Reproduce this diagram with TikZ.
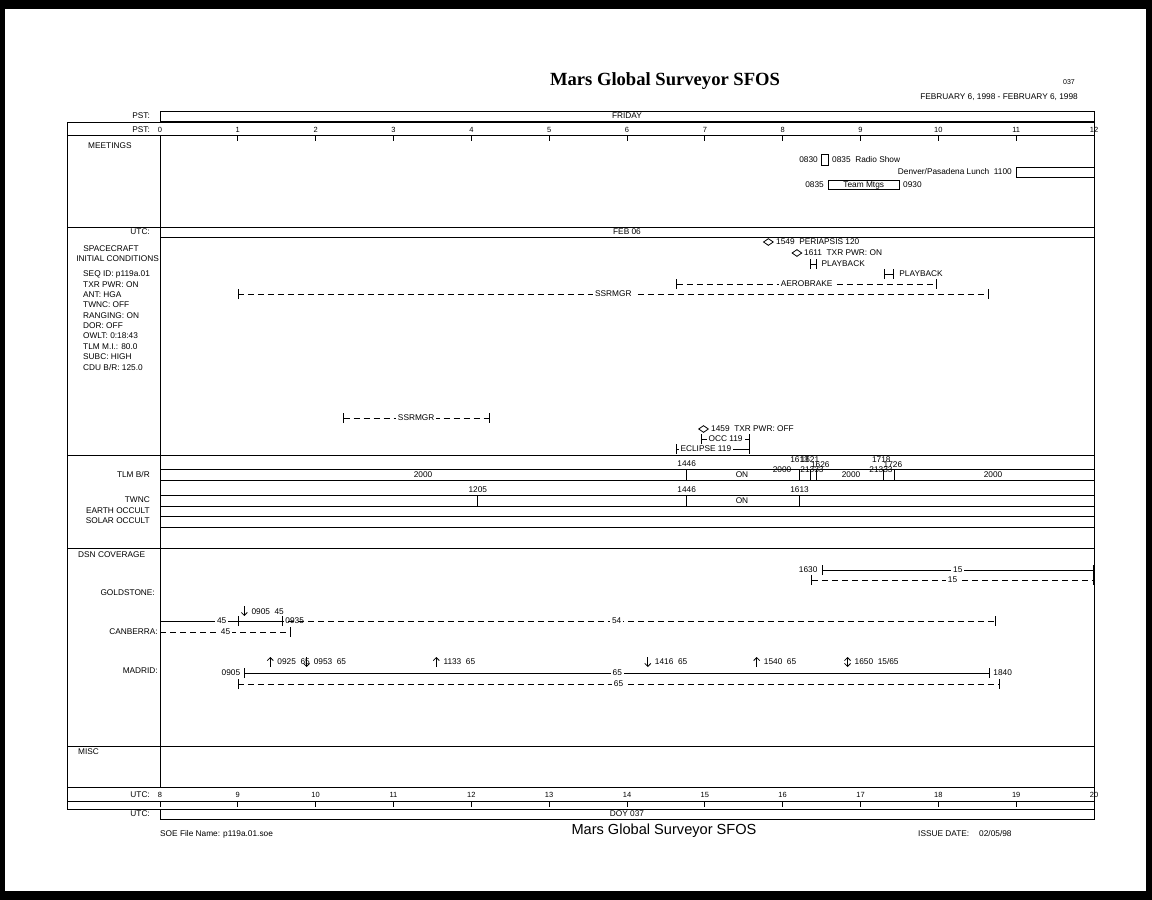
\documentclass[tikz,border=0pt]{standalone}
\usepackage{fontspec}
\setmainfont{Liberation Sans}
\newfontfamily\serifttl{Liberation Serif}
\usetikzlibrary{arrows.meta, shapes.geometric}
\tikzset{
    txt/.style={font=\fontsize{8.3}{9}\selectfont, inner sep=0pt},
    hdr/.style={txt, anchor=east},
    lft/.style={txt, anchor=west},
    frame/.style={line width=0.9pt},
    rule/.style={line width=0.8pt},
    hrtick/.style={line width=0.8pt},
    span/.style={line width=0.8pt, {Bar[width=10pt]}-{Bar[width=10pt]}},
    dspan/.style={span, dash pattern=on 6pt off 4pt},
    rspan/.style={line width=0.8pt, -{Bar[width=10pt]}},
    rdspan/.style={rspan, dash pattern=on 6pt off 4pt},
    spanlbl/.style={txt, fill=white, inner xsep=2pt, inner ysep=1pt},
    evmark/.style={draw, diamond, aspect=1.4, minimum width=10pt,
                   minimum height=7pt, inner sep=0pt, line width=0.8pt},
    mtgbox/.style={draw, line width=0.8pt},
    upar/.style={line width=0.8pt, -{Straight Barb[length=3pt, width=6pt]}},
    dnar/.style={line width=0.8pt, {Straight Barb[length=3pt, width=6pt]}-},
    udar/.style={line width=0.8pt,
                 {Straight Barb[length=3pt, width=6pt]}-{Straight Barb[length=3pt, width=6pt]}},
}

\begin{document}
\begin{tikzpicture}[x=1pt, y=-1pt,
    declare function={ut(\h,\m)=160+(\h+\m/60-8)*77.833;
                      pt(\h,\m)=160+(\h+\m/60)*77.833;}]
\useasboundingbox (0,0) rectangle (1152,900);
\fill[black] (0,0) rectangle (1152,900);
\fill[white] (5,9) rectangle (1146,891);

% --- page heading ---
\node[inner sep=0pt, font=\serifttl\bfseries\fontsize{18.6}{20}\selectfont] (title) at (665,81) {Mars Global Surveyor SFOS};
\node[txt, font=\fontsize{7}{8}\selectfont] (doynum) at (1069,82) {037};
\node[hdr] (dates) at (1078,97) {FEBRUARY 6, 1998 - FEBRUARY 6, 1998};

% --- frame and rows ---
\draw[rule] (160,111) rectangle (1094,121);
\draw[frame] (67,122) rectangle (1094,809);
\foreach \y in {135,227,455,548,746,787,801}
    \draw[rule] (67,\y) -- (1094,\y);
\foreach \y in {237,469,480,495,506,516,527}
    \draw[rule] (160,\y) -- (1094,\y);
\draw[rule] (160,135) -- (160,787);
\draw[rule] (160,809) rectangle (1094,819);

% --- time scales ---
\node[hdr] (pstday) at (150,116) {PST:};
\node[txt] (friday) at (627,116) {FRIDAY};
\node[hdr] (pstlbl) at (150,130) {PST:};
\foreach \h in {0,...,12}
    \node[txt, font=\fontsize{7.5}{8}\selectfont] (pst\h) at ({160+\h*77.833},130) {\h};
\foreach \h in {1,...,11}
    \draw[hrtick] ({160+\h*77.833},135) -- ++(0,6);
\node[hdr] (utclbl) at (150,795) {UTC:};
\foreach \h [evaluate=\h as \u using int(\h+8)] in {0,...,12}
    \node[txt, font=\fontsize{7.5}{8}\selectfont] (utc\u) at ({160+\h*77.833},795) {\u};
\foreach \h in {0,...,11}
    \draw[hrtick] ({160+\h*77.833},801) -- ++(0,6);
\node[hdr] (utcday) at (150,814) {UTC:};
\node[txt] (doy) at (627,814) {DOY 037};

% --- meetings ---
\node[lft] (meet) at (88,146) {MEETINGS};
\draw[mtgbox] ({pt(8,30)},154) rectangle ({pt(8,35)},165);
\node[hdr] (radio-a) at (818,160) {0830};
\node[lft] (radio-b) at (832,160) {0835~~Radio Show};
\draw[mtgbox] ({pt(11,0)},167) rectangle (1094,177);
\node[hdr] (lunch) at (1012,172) {Denver/Pasadena Lunch~~1100};
\draw[mtgbox] ({pt(8,35)},180) rectangle ({pt(9,30)},189);
\node[txt] (team) at ({(pt(8,35)+pt(9,30))/2},185.5) {Team Mtgs};
\node[hdr] (team-a) at (824,185) {0835};
\node[lft] (team-b) at (903,185) {0930};

% --- spacecraft ---
\node[hdr] (utcfeb) at (150,232) {UTC:};
\node[txt] (feb) at (627,232) {FEB 06};
\node[txt] (sc) at (111,249) {SPACECRAFT};
\node[hdr] (init) at (159,259) {INITIAL CONDITIONS};
\foreach \t [count=\i from 0] in {SEQ ID: p119a.01, TXR PWR: ON, ANT: HGA,
        TWNC: OFF, RANGING: ON, DOR: OFF, OWLT: 0:18:43, TLM M.I.: 80.0,
        SUBC: HIGH, CDU B/R: 125.0}
    \node[lft] (ic\i) at (83,{274+\i*10.35}) {\t};

\node[evmark] (peri) at ({ut(15,49)},242) {};
\node[lft] (peri-t) at (776,242) {1549~~PERIAPSIS 120};
\node[evmark] (txron) at ({ut(16,11)},253) {};
\node[lft] (txron-t) at (804,253) {1611~~TXR PWR: ON};
\coordinate (pb1a) at ({ut(16,21)},264);
\coordinate (pb1b) at ({ut(16,26)},264);
\draw[span] (pb1a) -- (pb1b);
\node[lft] (pb1) at ([xshift=5pt]pb1b) {PLAYBACK};
\coordinate (pb2a) at ({ut(17,18)},274);
\coordinate (pb2b) at ({ut(17,26)},274);
\draw[span] (pb2a) -- (pb2b);
\node[lft] (pb2) at ([xshift=5pt]pb2b) {PLAYBACK};
\coordinate (aeroa) at ({ut(14,38)},284);
\coordinate (aerob) at ({ut(17,59)},284);
\draw[dspan] (aeroa) -- node[spanlbl] (aero) {AEROBRAKE} (aerob);
\coordinate (ssr1a) at ({ut(9,0)},294);
\coordinate (ssr1b) at ({ut(18,39)},294);
\draw[dspan] (ssr1a) -- node[spanlbl] (ssr1) {SSRMGR} (ssr1b);
\coordinate (ssr2a) at ({ut(10,21)},418);
\coordinate (ssr2b) at ({ut(12,14)},418);
\draw[dspan] (ssr2a) -- node[spanlbl] (ssr2) {SSRMGR} (ssr2b);
\node[evmark] (txroff) at ({ut(14,59)},429) {};
\node[lft] (txroff-t) at (711,429) {1459~~TXR PWR: OFF};
\coordinate (occa) at ({ut(14,57)},439);
\coordinate (occb) at ({ut(15,35)},439);
\draw[span] (occa) -- node[spanlbl] (occ) {OCC 119} (occb);
\coordinate (ecla) at ({ut(14,38)},449);
\coordinate (eclb) at ({ut(15,35)},449);
\draw[span] (ecla) -- node[spanlbl, pos=0.4] (ecl) {ECLIPSE 119} (eclb);

% --- telemetry ---
\node[hdr] (tlmbr) at (150,475) {TLM B/R};
\node[hdr] (twnc) at (150,500) {TWNC};
\node[hdr] (earth) at (150,511) {EARTH OCCULT};
\node[hdr] (solar) at (150,521) {SOLAR OCCULT};
\foreach \h/\m in {14/46, 16/13, 16/21, 16/26, 17/18, 17/26}
    \draw[hrtick] ({ut(\h,\m)},469) -- ++(0,11);
\node[txt] (br1446) at ({ut(14,46)},464) {1446};
\node[txt] (br1613) at ({ut(16,13)},460) {1613};
\node[txt] (br1621) at ({ut(16,21)},460) {1621};
\node[txt] (br1626) at ({ut(16,29)},465) {1626};
\node[txt] (br1718) at ({ut(17,16)},460) {1718};
\node[txt] (br1726) at ({ut(17,25)},465) {1726};
\node[txt] (brlo1) at (782,470) {2000};
\node[txt] (brlo2) at (812,470) {21333};
\node[txt] (brlo3) at (881,470) {21333};
\node[txt] (brv1) at (423,475) {2000};
\node[txt] (brv2) at (742,475) {ON};
\node[txt] (brv3) at (851,475) {2000};
\node[txt] (brv4) at (993,475) {2000};
\foreach \h/\m in {12/05, 14/46, 16/13}
    \draw[hrtick] ({ut(\h,\m)},495) -- ++(0,11);
\node[txt] (tw1205) at ({ut(12,5)},490) {1205};
\node[txt] (tw1446) at ({ut(14,46)},490) {1446};
\node[txt] (tw1613) at ({ut(16,13)},490) {1613};
\node[txt] (twon) at (742,501) {ON};

% --- DSN coverage ---
\node[lft] (dsn) at (78,555) {DSN COVERAGE};
\node[hdr] (gds) at (155,593) {GOLDSTONE:};
\node[hdr] (cbr) at (158,632) {CANBERRA:};
\node[hdr] (mad) at (158,671) {MADRID:};

\coordinate (gs1a) at ({ut(16,30)},570);
\coordinate (gs1b) at (1094,570);
\draw[span] (gs1a) -- node[spanlbl] (gs1) {15} (gs1b);
\node[hdr] (gs1t) at ([xshift=-4pt]gs1a) {1630};
\coordinate (gs2a) at ({ut(16,22)},580);
\coordinate (gs2b) at (1094,580);
\draw[dspan] (gs2a) -- node[spanlbl] (gs2) {15} (gs2b);

\coordinate (cb3a) at ({ut(9,0)},621);
\coordinate (cb3b) at ({ut(18,44)},621);
\draw[dspan] (cb3a) -- node[spanlbl] (cb3) {54} (cb3b);
\coordinate (cb1a) at (160,621);
\coordinate (cb1b) at ({ut(9,35)},621);
\draw[rspan] (cb1a) -- node[spanlbl] (cb1) {45} (cb1b);
\node[lft] (cb1t) at ([xshift=2pt]cb1b) {0935};
\coordinate (cb2a) at (160,632);
\coordinate (cb2b) at ({ut(9,41)},632);
\draw[rdspan] (cb2a) -- node[spanlbl] (cb2) {45} (cb2b);
\coordinate (cbar) at ({ut(9,5)},616);
\draw[dnar] (cbar) -- ++(0,-10);
\node[lft] (cbart) at ([xshift=7pt, yshift=4pt]cbar) {0905~~45};

\coordinate (md1a) at ({ut(9,5)},673);
\coordinate (md1b) at ({ut(18,40)},673);
\draw[span] (md1a) -- node[spanlbl] (md1) {65} (md1b);
\node[hdr] (md1s) at ([xshift=-4pt]md1a) {0905};
\node[lft] (md1e) at ([xshift=3pt]md1b) {1840};
\coordinate (md2a) at ({ut(9,0)},684);
\coordinate (md2b) at ({ut(18,47)},684);
\draw[dspan] (md2a) -- node[spanlbl] (md2) {65} (md2b);
\foreach \h/\m/\dir/\t [count=\i] in {9/25/upar/{0925~~65}, 9/53/dnar/{0953~~65},
        11/33/upar/{1133~~65}, 14/16/dnar/{1416~~65}, 15/40/upar/{1540~~65},
        16/50/udar/{1650~~15/65}}
{
    \coordinate (mdar\i) at ({ut(\h,\m)},667);
    \draw[\dir] (mdar\i) -- ++(0,-10);
    \node[lft] (mdart\i) at ([xshift=7pt, yshift=5pt]mdar\i) {\t};
}

% --- misc and footer ---
\node[lft] (misc) at (78,752) {MISC};
\node[lft] (soe) at (160,834) {SOE File Name: p119a.01.soe};
\node[txt, font=\fontsize{14.6}{16}\selectfont] (foot) at (664,831) {Mars Global Surveyor SFOS};
\node[lft] (issue) at (918,834) {ISSUE DATE:\hspace{10pt}02/05/98};
\end{tikzpicture}
\end{document}
